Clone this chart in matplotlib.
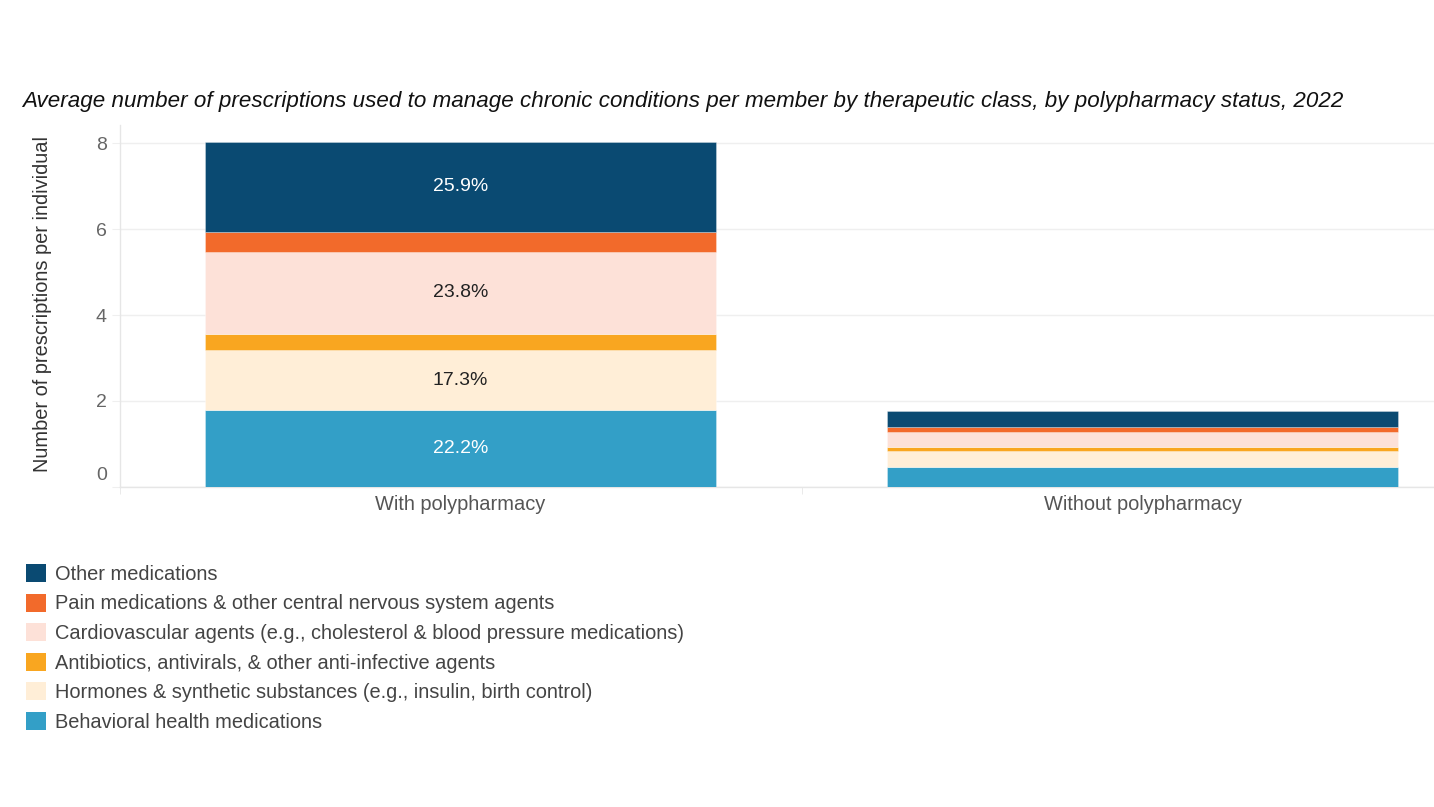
import matplotlib
matplotlib.use("Agg")
import matplotlib.pyplot as plt
from matplotlib.patches import Patch
from matplotlib.transforms import ScaledTranslation
import numpy as np

plt.rcParams['font.family'] = ['Liberation Sans', 'DejaVu Sans']

categories = ["With polypharmacy", "Without polypharmacy"]

series_names = [
    "Behavioral health medications",
    "Hormones & synthetic substances (e.g., insulin, birth control)",
    "Antibiotics, antivirals, & other anti-infective agents",
    "Cardiovascular agents (e.g., cholesterol & blood pressure medications)",
    "Pain medications & other central nervous system agents",
    "Other medications",
]
behavioral = [1.79, 0.47]
hormones = [1.39, 0.36]
anti_infective = [0.38, 0.10]
cardiovascular = [1.92, 0.355]
pain = [0.46, 0.105]
other = [2.09, 0.385]
series_values = [behavioral, hormones, anti_infective, cardiovascular, pain, other]

colors = ["#339fc7", "#ffeed7", "#f9a620", "#fde1d8", "#f26a2b", "#0a4a72"]
label_texts = [["22.2%", ""], ["17.3%", ""], ["", ""], ["23.8%", ""], ["", ""], ["25.9%", ""]]
label_colors = ["white", "#222222", "#222222", "#222222", "#222222", "white"]

y_ticks = [0, 2, 4, 6, 8]

W, H = 1434, 807
fig = plt.figure(figsize=(W / 100, H / 100), dpi=100)
ax = fig.add_axes([119.5 / W, (H - 486.7) / H, 1364 / W, (486.7 - 125) / H])

x = np.arange(len(categories))
bottom = np.zeros(len(categories))
handles = {}
for name, vals, col, labs, lc in zip(series_names, series_values, colors, label_texts, label_colors):
    vals = np.array(vals)
    bars = ax.bar(x, vals, width=0.75, bottom=bottom, color=col,
                  edgecolor=(1, 1, 1, 0.35), linewidth=0.6, zorder=3)
    ax.bar_label(bars, labels=labs, label_type='center', color=lc, fontsize=14)
    bottom = bottom + vals
    handles[name] = Patch(facecolor=col, edgecolor='none')

ax.set_xlim(-0.5, 1.5)
ax.set_ylim(0, 8.43)
ax.set_yticks(y_ticks)
ax.set_yticklabels([str(t) for t in y_ticks])
ax.set_xticks(x)
ax.set_xticklabels(categories)
ax.set_xticks([-0.5, 0.5, 1.5], minor=True)

ax.grid(axis='y', color='#efefef', linewidth=1, zorder=0)
for s in ['top', 'right']:
    ax.spines[s].set_visible(False)
for s in ['left', 'bottom']:
    ax.spines[s].set_color('#e6e6e6')
    ax.spines[s].set_linewidth(1)

ax.tick_params(axis='y', length=6, color='#efefef', pad=3, labelsize=14, labelcolor='#666666')
ax.tick_params(axis='x', which='major', length=0, pad=6, labelsize=14.4, labelcolor='#555555')
ax.tick_params(axis='x', which='minor', length=5, color='#e6e6e6')

# shift the "0" label up as in the reference
lbl0 = ax.get_yticklabels()[0]
lbl0.set_transform(lbl0.get_transform() + ScaledTranslation(0, 0.13, fig.dpi_scale_trans))

fig.text(22 / W, 1 - 107 / H,
         "Average number of prescriptions used to manage chronic conditions per member by therapeutic class, by polypharmacy status, 2022",
         fontsize=16.15, style='italic', color='#111111', va='baseline', ha='left')

fig.text(43 / W, 1 - 304.5 / H, "Number of prescriptions per individual",
         rotation=90, fontsize=14.4, color='#333333', ha='center', va='center')

legend_order = list(reversed(series_names))
fig.legend([handles[n] for n in legend_order], legend_order,
           loc='upper left', bbox_to_anchor=(26 / W, 1 - 564 / H),
           frameon=False, fontsize=14.4, handlelength=1.0, handleheight=1.0,
           handletextpad=0.45, labelspacing=0.49, borderpad=0, borderaxespad=0,
           labelcolor='#444444')

fig.savefig("out.png", dpi=100)
